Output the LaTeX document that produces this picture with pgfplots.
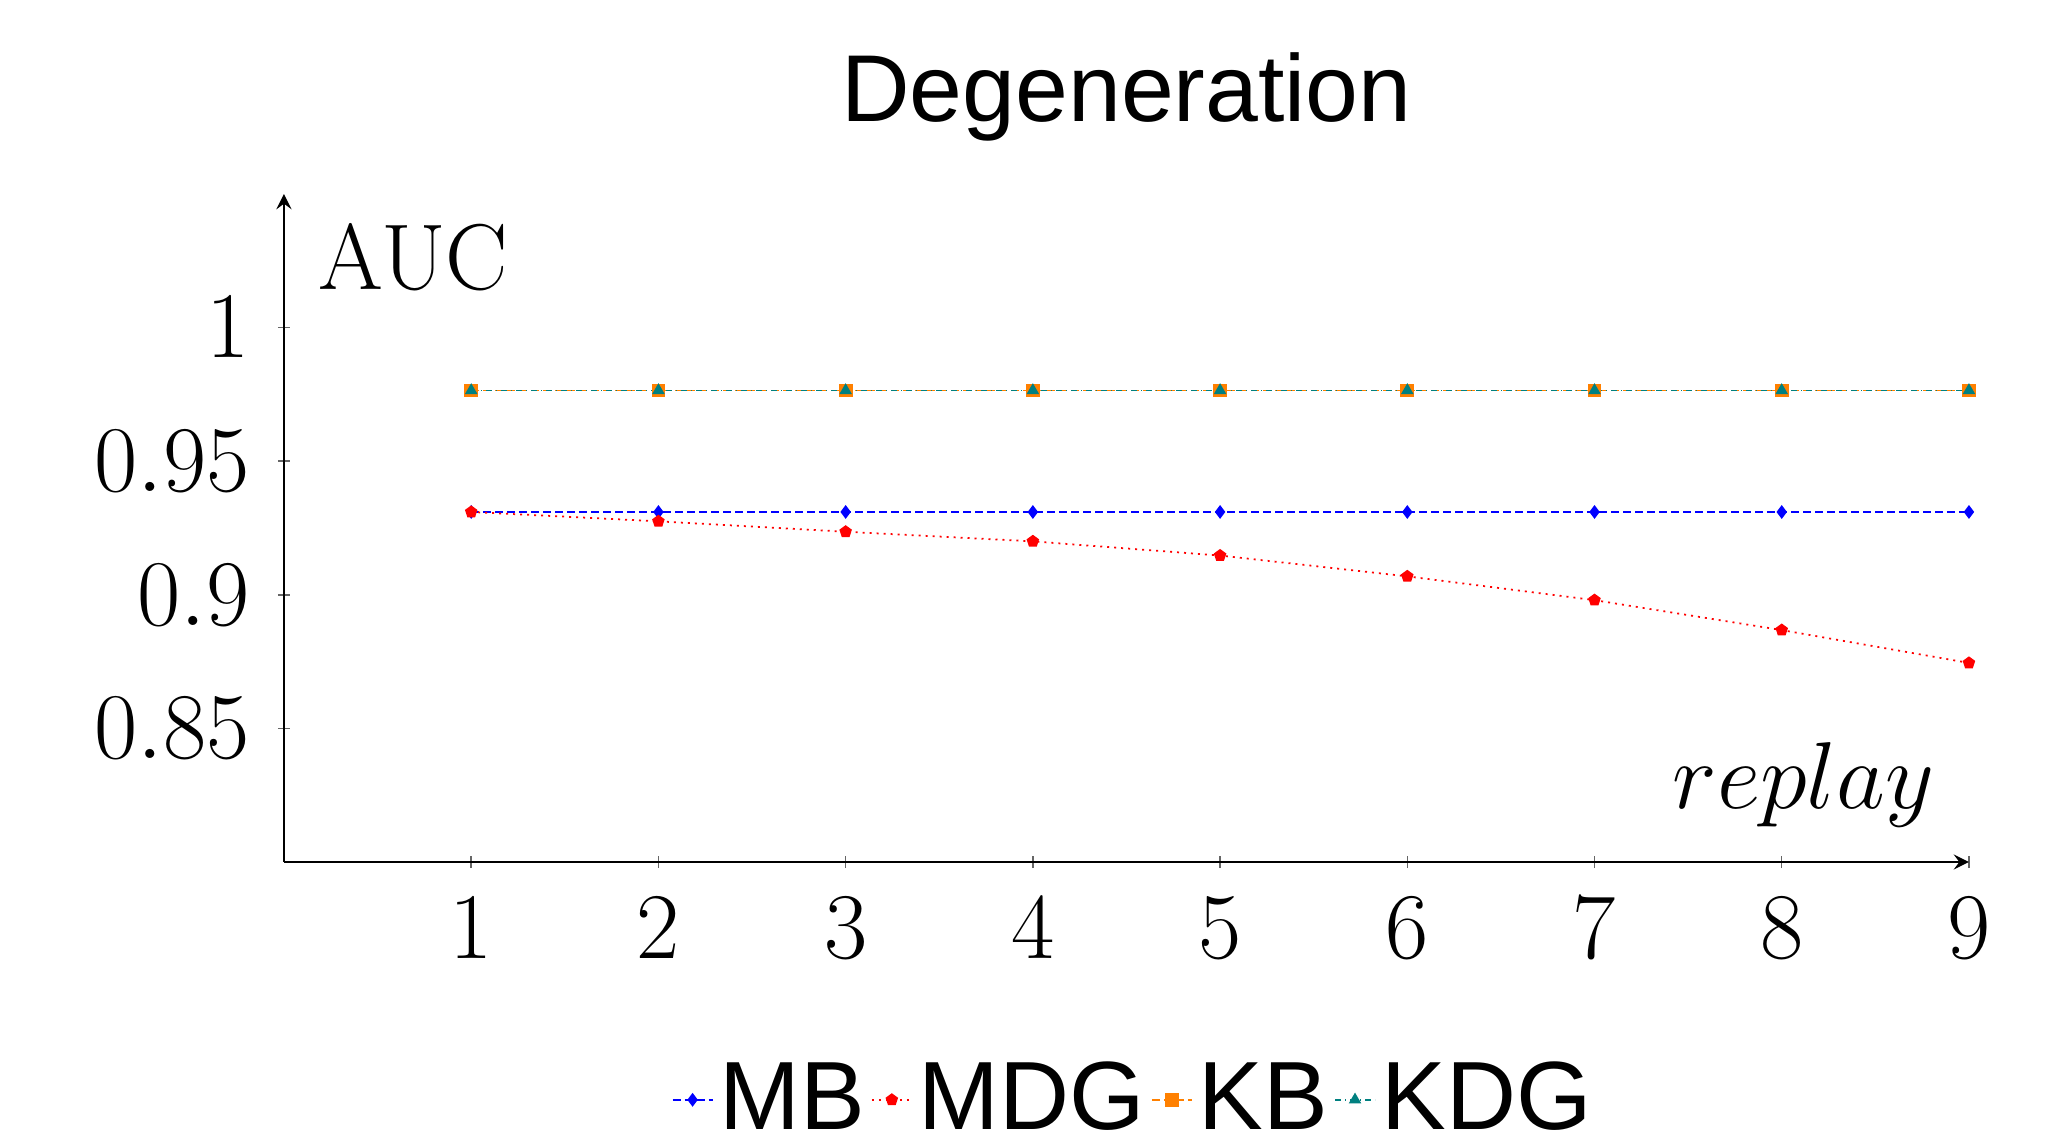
\RequirePackage{fix-cm}
\documentclass[border=0pt]{standalone}
\usepackage{pgfplots}
\pgfplotsset{compat=1.18}
\usepackage{fontspec}
\newfontfamily\arialfont{Liberation Sans}
\begin{document}
\begin{tikzpicture}
\path[use as bounding box] (-56.8pt,-56pt) rectangle (354pt,172.4pt);
\begin{axis}[
  at={(0pt,0pt)}, anchor=south west,
  scale only axis, width=337pt, height=133.6pt,
  xmin=0, xmax=9, ymin=0.8, ymax=1.05,
  axis lines=left,
  axis line style={line width=0.35pt},
  xtick={1,2,3,4,5,6,7,8,9},
  ytick={0.85,0.9,0.95,1},
  tick align=center, major tick length=2.4pt,
  tick style={line width=0.3pt, black!60},
  tick label style={font=\fontsize{18.8}{22}\selectfont},
  xticklabel style={yshift=-2.4pt},
  yticklabel style={xshift=-2.2pt},
  title={\arialfont Degeneration},
  title style={at={(axis description cs:0.5,1)}, anchor=south, yshift=1pt, font=\fontsize{19}{22}\selectfont},
  ylabel={AUC}, xlabel={$replay$},
  every axis y label/.style={at={(axis description cs:0.02,0.957)}, anchor=north west, inner sep=0pt, font=\fontsize{18.7}{21}\selectfont},
  every axis x label/.style={at={(axis description cs:0.98,0.051)}, anchor=south east, inner sep=0pt, font=\fontsize{19}{22}\selectfont},
  legend style={at={(axis description cs:0.505,-0.356)}, anchor=center, draw=none, legend columns=4,
    font=\arialfont\fontsize{19.4}{22}\selectfont, nodes={inner sep=1.2pt},
    /tikz/every even column/.append style={column sep=0pt}},
  legend image code/.code={\draw[mark repeat=2,mark phase=2] plot coordinates {(0pt,0pt) (4pt,0pt) (8pt,0pt)};},
  every axis plot/.append style={line width=0.35pt},
]
\addplot[blue, dash pattern=on 1.6pt off 0.8pt, mark=diamond*, mark size=1.1pt, mark options={solid}] coordinates {
(1,0.931) (2,0.931) (3,0.931) (4,0.931) (5,0.931) (6,0.931) (7,0.931) (8,0.931) (9,0.931)};
\addlegendentry{MB}
\addplot[red, dash pattern=on 0.4pt off 1pt, mark=pentagon*, mark size=1.1pt, mark options={solid}] coordinates {
(1,0.931) (2,0.9275) (3,0.9236) (4,0.9200) (5,0.9147) (6,0.9069) (7,0.8980) (8,0.8868) (9,0.8745)};
\addlegendentry{MDG}
\addplot[orange, dash pattern=on 1.6pt off 0.8pt, mark=square*, mark size=1.2pt, mark options={solid}] coordinates {
(1,0.9765) (2,0.9765) (3,0.9765) (4,0.9765) (5,0.9765) (6,0.9765) (7,0.9765) (8,0.9765) (9,0.9765)};
\addlegendentry{KB}
\addplot[teal, dash pattern=on 1.2pt off 0.8pt on 0.2pt off 0.8pt, mark=triangle*, mark size=1.1pt, mark options={solid}] coordinates {
(1,0.9765) (2,0.9765) (3,0.9765) (4,0.9765) (5,0.9765) (6,0.9765) (7,0.9765) (8,0.9765) (9,0.9765)};
\addlegendentry{KDG}
\end{axis}
\end{tikzpicture}
\end{document}
